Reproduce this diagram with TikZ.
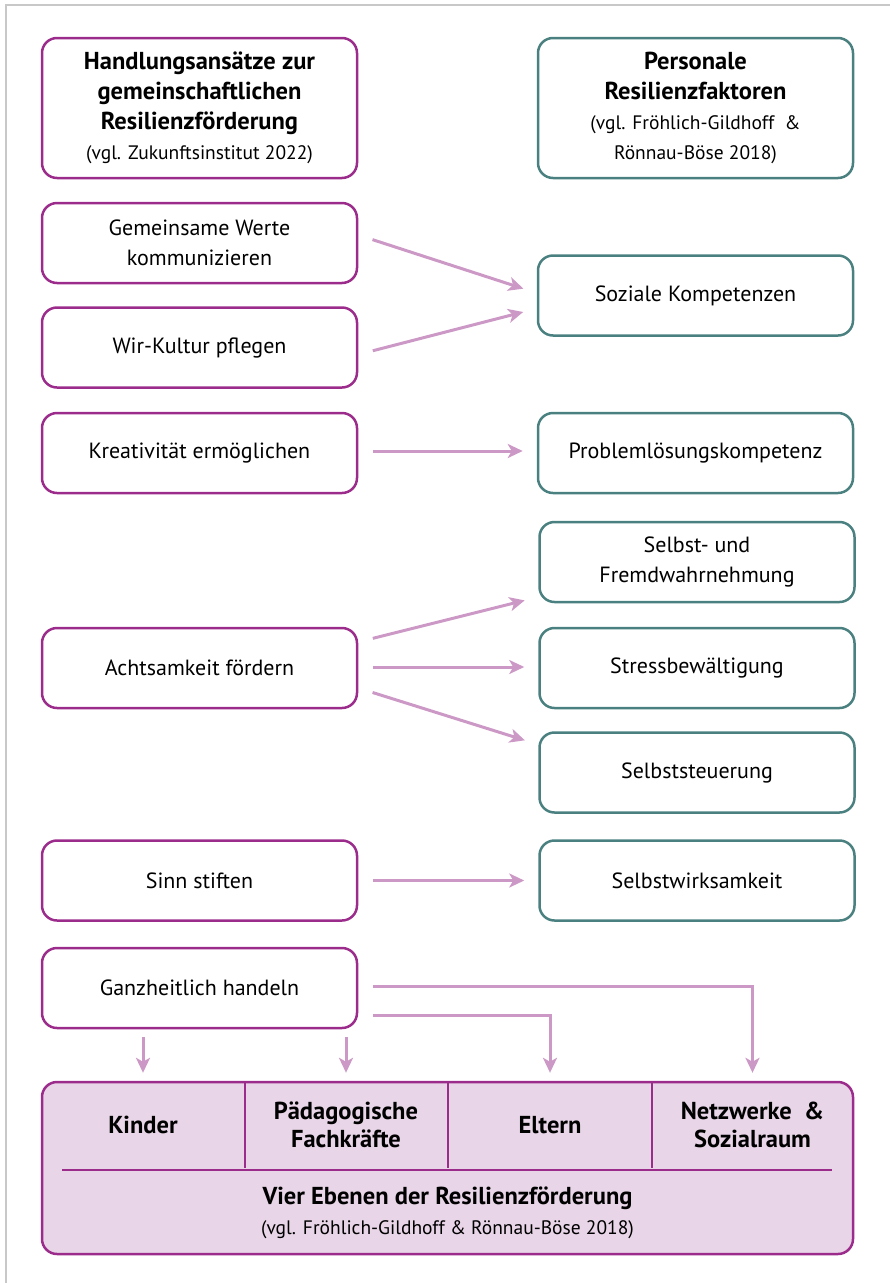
\documentclass[tikz,border=0pt]{standalone}
\usepackage{fontspec}
\setmainfont{PT Sans}
\usetikzlibrary{arrows.meta}
\definecolor{lila}{HTML}{9C2C8C}
\definecolor{petrol}{HTML}{4A8080}
\definecolor{pfeilfarbe}{HTML}{CC99C6}
\definecolor{flaeche}{HTML}{E8D5E7}
\definecolor{rahmen}{HTML}{C8C8C8}
\tikzset{
  ansatz/.style={draw=lila, line width=2.5pt, rounded corners=15pt, minimum width=315pt, minimum height=80pt, inner sep=0pt, align=center, font=\fontsize{22}{30}\selectfont},
  faktor/.style={ansatz, draw=petrol},
  ebene/.style={minimum width=204pt, minimum height=86pt, inner sep=0pt, align=center, font=\bfseries\fontsize{24.5}{28}\selectfont},
  pfeil/.style={draw=pfeilfarbe, line width=3pt, -{Stealth[length=15pt, width=14pt, inset=4pt]}, shorten <=15pt, shorten >=14pt},
  pfeilab/.style={pfeil, shorten <=8pt, shorten >=9pt}
}
\begin{document}
\begin{tikzpicture}[x=1pt, y=-1pt]
\useasboundingbox (0,0) rectangle (890,1283);
\draw[rahmen, line width=2pt] (6,1283) -- (6,5) -- (890,5);

\node (titelA) at (199.5,108) [ansatz, minimum height=140pt] {\textbf{\fontsize{24.5}{31}\selectfont Handlungsansätze zur}\\\textbf{\fontsize{24.5}{31}\selectfont gemeinschaftlichen}\\\textbf{\fontsize{24.5}{29}\selectfont Resilienzförderung}\\{\fontsize{19.5}{26}\selectfont (vgl. Zukunftsinstitut 2022)}};
\node (titelB) at (695.5,108) [faktor, minimum height=140pt] {\textbf{\fontsize{24.5}{29}\selectfont Personale}\\\textbf{\fontsize{24.5}{31}\selectfont Resilienzfaktoren}\\{\fontsize{19.5}{26}\selectfont (vgl. Fröhlich-Gildhoff~\ \&}\\{\fontsize{19.5}{26}\selectfont Rönnau-Böse 2018)}};

\node (werte) at (199.5,243) [ansatz] {Gemeinsame Werte\\kommunizieren};
\node (wir) at (199.5,347.5) [ansatz] {Wir-Kultur pflegen};
\node (krea) at (199.5,453) [ansatz] {Kreativität ermöglichen};
\node (acht) at (199.5,668) [ansatz] {Achtsamkeit fördern};
\node (sinn) at (199.5,880.5) [ansatz] {Sinn stiften};
\node (ganz) at (199.5,988) [ansatz] {Ganzheitlich handeln};

\node (sozial) at (695.5,295.5) [faktor] {Soziale Kompetenzen};
\node (problem) at (695.5,453) [faktor] {Problemlösungskompetenz};
\node (wahr) at (697,562) [faktor] {Selbst- und\\Fremdwahrnehmung};
\node (stress) at (697,668) [faktor] {Stressbewältigung};
\node (steuer) at (697,772.5) [faktor] {Selbststeuerung};
\node (wirk) at (697,880.5) [faktor] {Selbstwirksamkeit};

\node (ebenen) at (447.5,1168) [draw=lila, fill=flaeche, line width=2.5pt, rounded corners=15pt, minimum width=811pt, minimum height=172pt] {};
\node (kinder) at (143,1125) [ebene] {Kinder};
\node (paed) at (346,1125) [ebene] {Pädagogische\\Fachkräfte};
\node (eltern) at (550,1125) [ebene] {Eltern};
\node (netz) at (752.5,1125) [ebene] {Netzwerke~\ \&\\Sozialraum};
\node (vier) at (447.5,1213) [align=center, font=\fontsize{20}{30}\selectfont] {\textbf{\fontsize{24.5}{30}\selectfont Vier Ebenen der Resilienzförderung}\\{\fontsize{19.5}{30}\selectfont (vgl. Fröhlich-Gildhoff \& Rönnau-Böse 2018)}};

\draw[lila, line width=2.5pt] (kinder.north east) -- (kinder.south east);
\draw[lila, line width=2.5pt] (paed.north east) -- (paed.south east);
\draw[lila, line width=2.5pt] (eltern.north east) -- (eltern.south east);
\draw[lila, line width=2.5pt] (62,1170) -- (832,1170);

\draw[pfeil] ([yshift=8pt]werte.east) -- ([yshift=2.5pt]sozial.west);
\draw[pfeil] ([yshift=-7pt]wir.east) -- ([yshift=-13pt]sozial.west);
\draw[pfeil] ([yshift=2pt]krea.east) -- ([yshift=2pt]problem.west);
\draw[pfeil] ([yshift=26pt]acht.east) -- ([yshift=-35pt]wahr.west);
\draw[pfeil] ([yshift=1pt]acht.east) -- ([yshift=1pt]stress.west);
\draw[pfeil] ([yshift=-20pt]acht.east) -- ([yshift=28pt]steuer.west);
\draw[pfeil] (sinn.east) -- (wirk.west);
\draw[pfeil, shorten >=9pt] ([yshift=2pt]ganz.east) -| (netz.north);
\draw[pfeil, shorten >=9pt] ([yshift=-27pt]ganz.east) -| (eltern.north);
\draw[pfeilab] (kinder.north |- ganz.south) -- (kinder.north);
\draw[pfeilab] (paed.north |- ganz.south) -- (paed.north);

\end{tikzpicture}
\end{document}
